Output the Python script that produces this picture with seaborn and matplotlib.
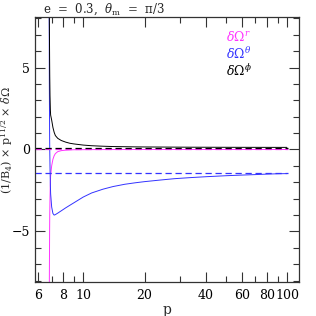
import numpy as np
import pandas as pd
import matplotlib
matplotlib.use("Agg")
import matplotlib.pyplot as plt
import seaborn as sns

# orbit parameters shown in the title
ecc = "0.3"
theta_m = "π/3"

# semi-latus rectum samples (separatrix near p ~ 6.8)
p = [6.80, 6.81, 6.82, 6.84, 6.85, 6.87, 6.90, 6.92, 7.0, 7.1, 7.2, 7.3, 7.5, 7.8,
     8.2, 8.6, 9.0, 10.0, 11.0, 12.5, 14.0, 16.0, 18.0, 20.0, 24.0, 28.0, 34.0,
     40.0, 50.0, 60.0, 70.0, 80.0, 90.0, 100.0]

d_omega_r = [-20.0, -12.0, -8.0, -5.0, -4.0, -3.0, -2.0, -1.6, -1.0, -0.6, -0.38,
             -0.25, -0.13, -0.07, -0.04, -0.025, -0.015, -0.01, -0.006, -0.004,
             -0.003, -0.002, -0.001, 0.0, 0.0, 0.0, 0.0, 0.0, 0.0, 0.0, 0.0, 0.0,
             0.0, 0.0]

d_omega_theta = [20.0, 8.0, 4.0, 1.0, 0.0, -1.0, -2.2, -2.7, -3.5, -3.9, -4.0,
                 -3.97, -3.88, -3.74, -3.56, -3.4, -3.25, -2.9, -2.65, -2.42, -2.26,
                 -2.12, -2.03, -1.96, -1.86, -1.78, -1.71, -1.66, -1.6, -1.56,
                 -1.53, -1.5, -1.48, -1.47]

d_omega_phi = [20.0, 12.0, 8.0, 5.5, 4.5, 3.3, 2.4, 2.1, 1.8, 1.35, 1.05, 0.85,
               0.68, 0.55, 0.45, 0.38, 0.34, 0.27, 0.23, 0.2, 0.18, 0.17, 0.16,
               0.155, 0.15, 0.145, 0.14, 0.138, 0.135, 0.133, 0.132, 0.131,
               0.13, 0.13]

# large-p asymptotes (dashed)
asym_r = 0.0
asym_theta = -1.43
asym_phi = 0.12

labels = [r"$\delta\Omega^r$", r"$\delta\Omega^\theta$", r"$\delta\Omega^\phi$"]
colors = ["#ff33ff", "#3333ff", "black"]

df = pd.DataFrame({"p": p, "r": d_omega_r, "theta": d_omega_theta, "phi": d_omega_phi})

sns.set_theme(style="ticks")
plt.rcParams["font.family"] = ["DejaVu Serif"]
plt.rcParams["mathtext.fontset"] = "dejavuserif"

fig = plt.figure(figsize=(3.16, 3.16), dpi=100)
ax = fig.add_axes([0.1108, 0.1076, 0.8354, 0.8386])

for col, c in zip(["r", "theta", "phi"], colors):
    sns.lineplot(data=df, x="p", y=col, ax=ax, color=c, lw=0.7,
                 estimator=None, sort=False)

for val, c in zip([asym_r, asym_theta, asym_phi], colors):
    ax.axhline(val, xmax=0.9575, color=c, lw=0.9, ls=(0, (5, 3)))

ax.set_xscale("log")
ax.set_xlim(5.8, 114.6)
ax.set_ylim(-8.08, 8.08)

major = [6, 8, 10, 20, 40, 60, 80, 100]
minor = [7, 9, 30, 50, 70, 90]
ax.set_xticks(major)
ax.set_xticks(minor, minor=True)
ax.set_xticklabels([str(v) for v in major])
ax.set_yticks([-5, 0, 5])
ax.set_yticks([v for v in range(-8, 9) if v % 5 != 0], minor=True)
ax.tick_params(which="both", direction="in", top=True, right=True,
               labelsize=9, colors="#333333", labelcolor="black", width=0.8)
ax.tick_params(which="major", length=7)
ax.tick_params(which="minor", length=4)
ax.tick_params(axis="x", pad=5)
for s in ax.spines.values():
    s.set_color("#333333")
    s.set_linewidth(0.9)

ax.set_xlabel("p", fontsize=10, labelpad=1)
ax.set_ylabel(r"(1/B$_4$) $\times$ p$^{11/2}$ $\times$ $\delta\Omega$", fontsize=8)
ax.yaxis.set_label_coords(-0.075, 0.535)

fig.text(0.136, 0.972, rf"e  =  {ecc},  $\theta_{{\rm m}}$  =  {theta_m}",
         fontsize=8.5, va="center", ha="left")

for i, (lab, c) in enumerate(zip(labels, colors)):
    ax.text(0.725, 0.925 - i * 0.064, lab, color=c, fontsize=9,
            transform=ax.transAxes, ha="left", va="center")

fig.savefig("out.png", dpi=100)
